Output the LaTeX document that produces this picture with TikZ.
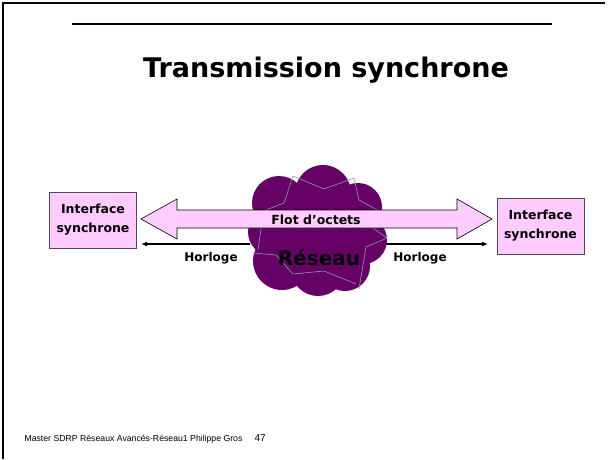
\documentclass[tikz,border=0pt]{standalone}
\usepackage{fontspec}
\setmainfont{DejaVu Sans}
\newfontfamily\footfont{Liberation Sans}
\usetikzlibrary{arrows.meta}
\definecolor{boxpink}{HTML}{FFCCFF}
\definecolor{cloudpurple}{HTML}{660066}
\definecolor{cloudline}{HTML}{8C9BB0}
\tikzset{
  ifbox/.style={draw=black!70, line width=0.7pt, fill=boxpink, minimum width=87pt, minimum height=56pt, align=center, inner sep=0pt, font=\fontsize{12.5}{19}\selectfont\bfseries},
  clocklabel/.style={font=\fontsize{12}{14}\selectfont\bfseries},
  clockarrow/.style={line width=1.4pt, -{Latex[length=6pt,width=5pt]}},
  seg/.style={draw=cloudline, line width=0.6pt},
}
\begin{document}
\begin{tikzpicture}[x=1pt,y=-1pt]
\useasboundingbox (0,0) rectangle (609,459);
% frame
\draw[line width=2pt] (3,459) -- (3,3) -- (605,3);
\draw[line width=1.3pt] (72,24) -- (552,24);
\node[font=\fontsize{27}{30}\selectfont\bfseries] (title) at (326,70) {Transmission synchrone};
% boxes
\node[ifbox] (left) at (93,220) {Interface\\synchrone};
\node[ifbox] (right) at (540.5,226) {Interface\\synchrone};
% clock arrows (start under the cloud)
\coordinate (cl) at (250,244);
\coordinate (cr) at (380,244);
\coordinate (tl) at (141,244);
\coordinate (tr) at (488,244);
\draw[clockarrow] (cl) -- (tl);
\draw[clockarrow] (cr) -- (tr);
% cloud
\begin{scope}[fill=cloudpurple]
\fill (323,193) circle (28);
\fill (279,203) circle (27);
\fill (358,207) circle (24);
\fill (363,240) circle (24);
\fill (345,266) circle (25);
\fill (318,269) circle (27);
\fill (282,261) circle (29);
\fill (272,232) circle (24);
\fill (318,232) circle (50);
\end{scope}
\draw[seg] (293,176) -- (324,189) -- (354,178);
\draw[seg] (354,178) -- (359,200) -- (381,212);
\draw[seg] (293,176) -- (284,203) -- (258,213);
\draw[seg] (387,238) -- (366,247) -- (359,289);
\draw[seg] (253,253) -- (276,255) -- (293,274) -- (324,271) -- (356,284);
\draw[seg] (262,222) -- (258,250);
\draw[seg] (370,226) -- (387,238);
% big double arrow
\draw[fill=boxpink, line width=0.6pt] (141,219) -- (177,199) -- (177,210) -- (457,210) -- (457,199) -- (492,219) -- (457,239) -- (457,228) -- (177,228) -- (177,239) -- cycle;
\node[font=\fontsize{12.5}{14}\selectfont\bfseries] (flot) at (316,220) {Flot d'octets};
\node[font=\fontsize{20}{24}\selectfont\bfseries] (reseau) at (319,258) {Réseau};
\node[clocklabel] (hl) at (211,258) {Horloge};
\node[clocklabel] (hr) at (420,258) {Horloge};
% footer
\node[font=\footfont\fontsize{8.7}{10}\selectfont, anchor=base west] (foot) at (21,441) {Master SDRP Réseaux Avancés-Réseau1 Philippe Gros};
\node[font=\footfont\fontsize{10}{12}\selectfont, anchor=base west] (page) at (251,441) {47};
\end{tikzpicture}
\end{document}
